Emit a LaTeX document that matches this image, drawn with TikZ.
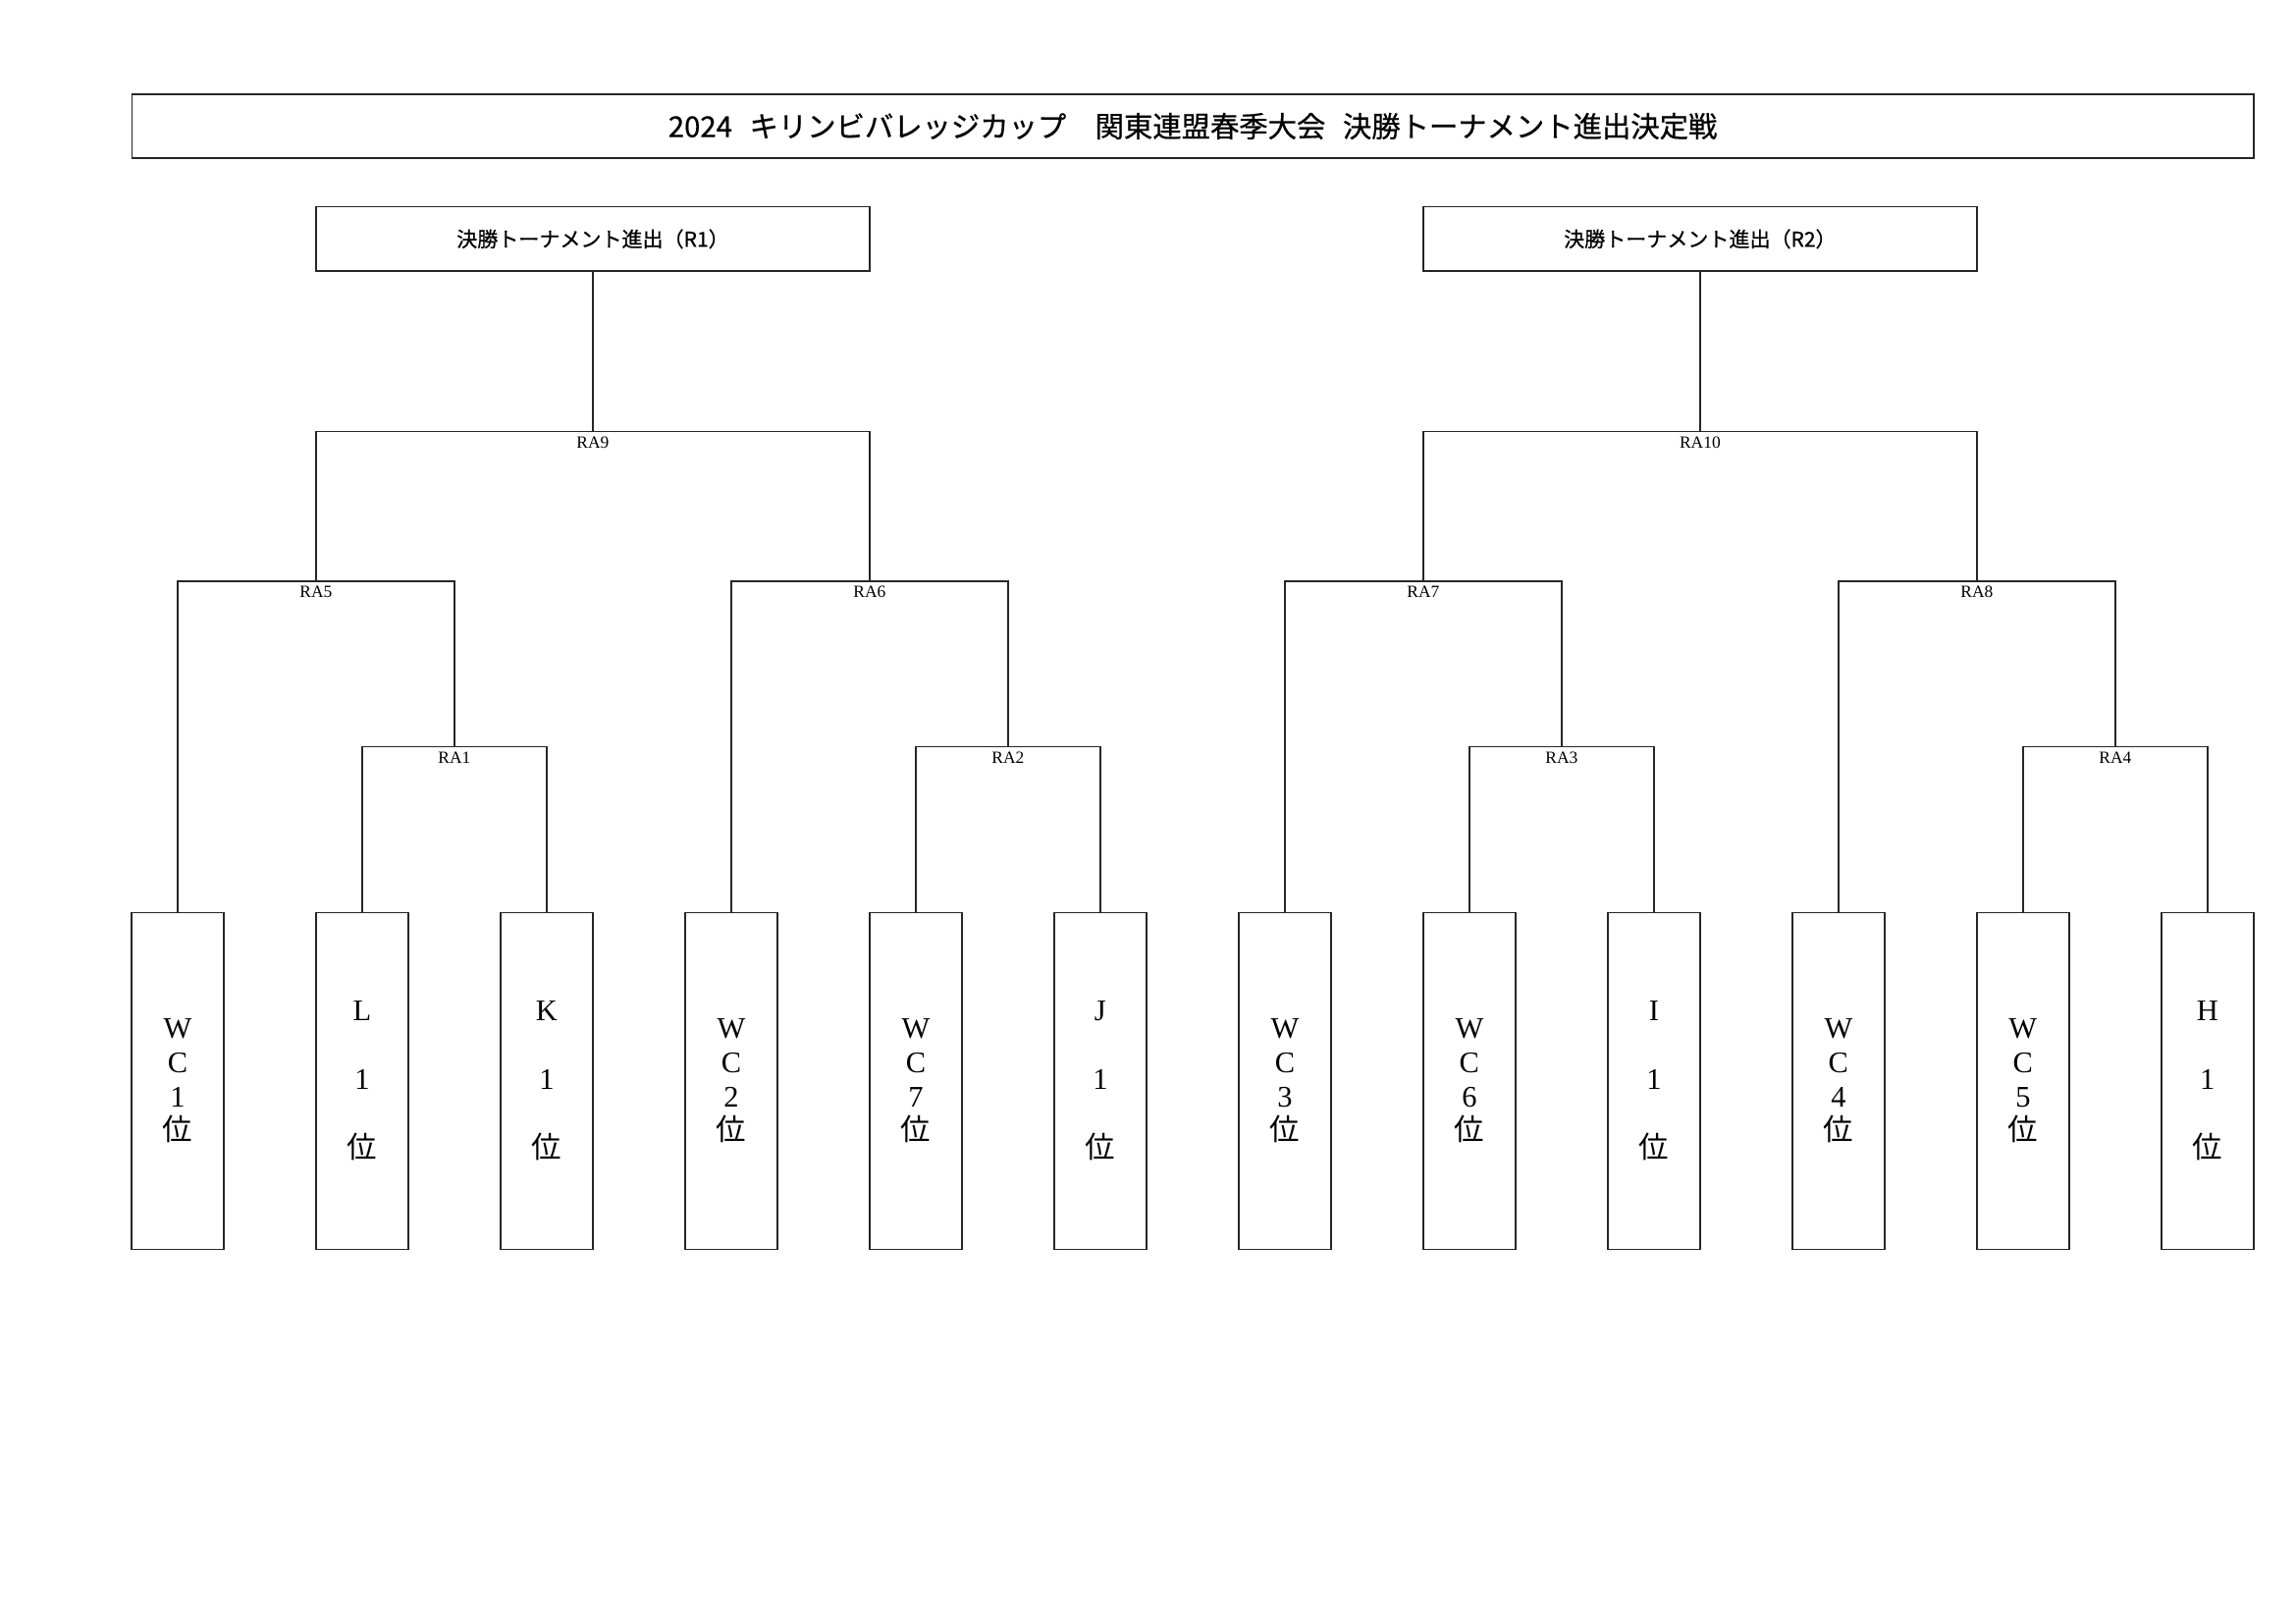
\documentclass[tikz,border=0pt]{standalone}
\usepackage{fontspec}
\setmainfont{Liberation Serif}
\newfontfamily\jpfont{Noto Sans CJK JP}
\newfontfamily\jpheadfont{Noto Sans CJK JP}[FakeBold=0.6]
\usetikzlibrary{positioning}

\newcommand{\rankchar}{{\jpfont 位}}
\tikzstyle{titlebox} = [draw=black!85, line width=0.5pt, minimum width=274.5mm, minimum height=8.25mm, inner sep=0pt, font=\jpheadfont\fontsize{10.6pt}{12pt}\selectfont]
\tikzstyle{finalbox} = [draw=black!85, line width=0.5pt, minimum width=71.6mm, minimum height=8.3mm, inner sep=0pt, font=\jpheadfont\fontsize{7.6pt}{8pt}\selectfont]
\tikzstyle{teambox} = [draw=black!85, line width=0.5pt, outer sep=0pt, minimum width=11.94mm, minimum height=43.56mm, inner sep=0pt, align=center, font=\fontsize{11pt}{12.6pt}\selectfont]
\tikzstyle{matchlbl} = [anchor=north, inner sep=0.6mm, font=\fontsize{6.3pt}{7pt}\selectfont]
\tikzstyle{bracket} = [draw=black!85, line width=0.5pt]

\begin{document}
\begin{tikzpicture}[x=1mm, y=-1mm, node distance=11.93mm]
    \useasboundingbox (0,0) rectangle (297,210);
    \node [titlebox] (title) at (154.29,16.32) {2024\hspace{0.6em}キリンビバレッジカップ\hspace{1em}関東連盟春季大会\hspace{0.6em}決勝トーナメント進出決定戦};
    \node [finalbox] (r1) at (76.69,30.9) {決勝トーナメント進出（R1）};
    \node [finalbox] (r2) at (219.91,30.9) {決勝トーナメント進出（R2）};

    % teams
    \node [teambox] (b1) at (22.98,139.78) {W\\C\\1\\\rankchar};
    \node [teambox, right=of b1] (b2) {L\\[12.6pt]1\\[12.6pt]\rankchar};
    \node [teambox, right=of b2] (b3) {K\\[12.6pt]1\\[12.6pt]\rankchar};
    \node [teambox, right=of b3] (b4) {W\\C\\2\\\rankchar};
    \node [teambox, right=of b4] (b5) {W\\C\\7\\\rankchar};
    \node [teambox, right=of b5] (b6) {J\\[12.6pt]1\\[12.6pt]\rankchar};
    \node [teambox, right=of b6] (b7) {W\\C\\3\\\rankchar};
    \node [teambox, right=of b7] (b8) {W\\C\\6\\\rankchar};
    \node [teambox, right=of b8] (b9) {I\\[12.6pt]1\\[12.6pt]\rankchar};
    \node [teambox, right=of b9] (b10) {W\\C\\4\\\rankchar};
    \node [teambox, right=of b10] (b11) {W\\C\\5\\\rankchar};
    \node [teambox, right=of b11] (b12) {H\\[12.6pt]1\\[12.6pt]\rankchar};

    % matches
    \node [matchlbl] (ra1) at (58.785,96.59) {RA1};
    \node [matchlbl] (ra2) at (130.395,96.59) {RA2};
    \node [matchlbl] (ra3) at (202.005,96.59) {RA3};
    \node [matchlbl] (ra4) at (273.615,96.59) {RA4};
    \node [matchlbl] (ra5) at (40.8825,75.17) {RA5};
    \node [matchlbl] (ra6) at (112.4925,75.17) {RA6};
    \node [matchlbl] (ra7) at (184.1025,75.17) {RA7};
    \node [matchlbl] (ra8) at (255.7125,75.17) {RA8};
    \node [matchlbl] (ra9) at (76.69,55.78) {RA9};
    \node [matchlbl] (ra10) at (219.91,55.78) {RA10};

    \draw [bracket] (b2.north) |- (ra1.north) -| (b3.north);
    \draw [bracket] (b5.north) |- (ra2.north) -| (b6.north);
    \draw [bracket] (b8.north) |- (ra3.north) -| (b9.north);
    \draw [bracket] (b11.north) |- (ra4.north) -| (b12.north);
    \draw [bracket] (b1.north) |- (ra5.north) -| (ra1.north);
    \draw [bracket] (b4.north) |- (ra6.north) -| (ra2.north);
    \draw [bracket] (b7.north) |- (ra7.north) -| (ra3.north);
    \draw [bracket] (b10.north) |- (ra8.north) -| (ra4.north);
    \draw [bracket] (ra5.north) |- (ra9.north) -| (ra6.north);
    \draw [bracket] (ra7.north) |- (ra10.north) -| (ra8.north);
    \draw [bracket] (ra9.north) -- (r1.south);
    \draw [bracket] (ra10.north) -- (r2.south);
\end{tikzpicture}
\end{document}
